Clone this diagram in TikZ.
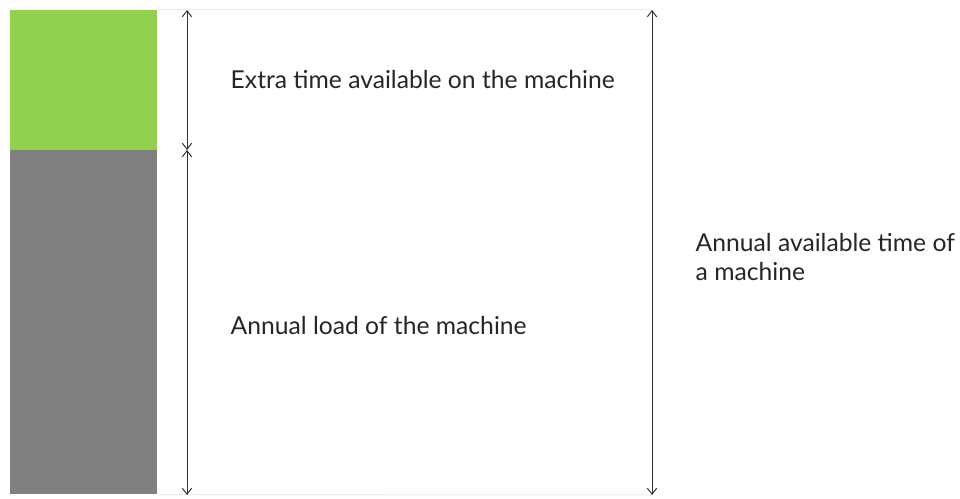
\documentclass[tikz,border=0pt]{standalone}
\usepackage{fontspec}
\setmainfont{Lato}
\usetikzlibrary{positioning,arrows,arrows.meta}
\definecolor{barGreen}{HTML}{92D050}
\definecolor{barGray}{HTML}{808080}

\begin{document}
\begin{tikzpicture}[
    x=0.75pt, y=-0.75pt,
    bar/.style={inner sep=0pt, minimum width=110.25pt, anchor=north west},
    dim/.style={{Straight Barb[length=4.5pt,width=7pt]}-{Straight Barb[length=4.5pt,width=7pt]}, line width=0.75pt, black!80},
    guide/.style={line width=0.75pt, black!8},
    label/.style={font=\fontsize{18.5}{22}\selectfont, text=black!85, anchor=west, align=left}
]
    \useasboundingbox (0,0) rectangle (960,499);

    % Stacked bar
    \node[bar, fill=barGreen, minimum height=105pt] (extra) at (10,10) {};
    \node[bar, fill=barGray, minimum height=258pt] (load) at (10,150) {};

    % End points of the dimension lines
    \coordinate (topA) at (187,10);
    \coordinate (midA) at (187,150);
    \coordinate (botA) at (187,495);
    \coordinate (topB) at (652,10);
    \coordinate (botB) at (652,495);

    % Faint guide lines
    \draw[guide] (extra.north east) -- (topB);
    \draw[guide] (load.south east) -- (botB);

    % Dimension arrows
    \draw[dim] (topA) -- (midA);
    \draw[dim] (midA) -- (botA);
    \draw[dim] (topB) -- (botB);

    % Labels
    \node[label] (extraText) at (226,80) {Extra time available on the machine};
    \node[label] (loadText) at (226,326) {Annual load of the machine};
    \node[label] (totalText) at (691,257) {Annual available time of\\a machine};
\end{tikzpicture}
\end{document}
